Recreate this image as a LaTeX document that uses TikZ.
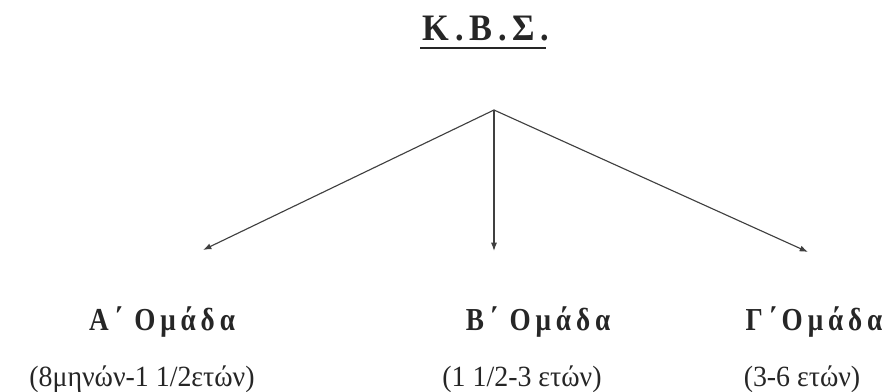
\documentclass[tikz,border=0pt]{standalone}
\usepackage{fontspec}
\setmainfont{Liberation Serif}
\newfontfamily\spacedbold[LetterSpace=18]{Liberation Serif}
\newfontfamily\titlebold[LetterSpace=17]{Liberation Serif}
\usetikzlibrary{arrows.meta, calc}
\newcommand{\squeeze}[2][0.85]{\scalebox{#1}[1]{#2}}

\begin{document}
\begin{tikzpicture}[x=0.75pt, y=-0.75pt,
    every node/.style={inner sep=0pt, text=black!85},
    grouplabel/.style={anchor=base, font=\spacedbold\bfseries\fontsize{24}{28}\selectfont},
    agelabel/.style={anchor=base, font=\fontsize{22}{26}\selectfont},
    branch/.style={-{Latex[length=2.2mm, width=1.6mm]}, line width=0.85pt, black!75}]
  \useasboundingbox (0,0) rectangle (884,392);
  % title
  \node[anchor=base, font=\titlebold\bfseries\fontsize{28}{32}\selectfont] (KBS) at (486,41) {\squeeze[0.92]{Κ.Β.Σ.}};
  \draw[line width=1.6pt, black!85] ($(KBS.base west)+(-2,7)$) -- ($(KBS.base east)+(-4,7)$);
  % branches
  \coordinate (root) at (494,110);
  \coordinate (tipA) at (203,250);
  \coordinate (tipB) at (494,251);
  \coordinate (tipC) at (808,252);
  \draw[branch] (root) -- (tipA);
  \draw[branch] (root) -- (tipB);
  \draw[branch] (root) -- (tipC);
  % groups
  \node[grouplabel] (groupA) at (162,330) {\squeeze{Α΄ Ομάδα}};
  \node[grouplabel] (groupB) at (538,330) {\squeeze{Β΄ Ομάδα}};
  \node[grouplabel] (groupC) at (814,330) {\squeeze{Γ΄Ομάδα}};
  \node[agelabel] (ageA) at (142,386) {\squeeze[0.95]{(8μηνών-1 1/2ετών)}};
  \node[agelabel] (ageB) at (522,386) {\squeeze[0.95]{(1 1/2-3 ετών)}};
  \node[agelabel] (ageC) at (802,386) {\squeeze[0.95]{(3-6 ετών)}};
\end{tikzpicture}
\end{document}
